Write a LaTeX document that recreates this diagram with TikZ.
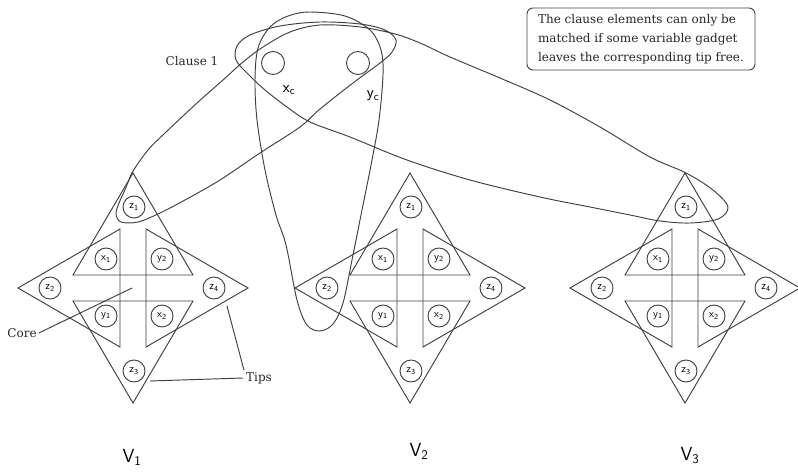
\documentclass[tikz,border=0pt]{standalone}
\usepackage{fontspec}
\setmainfont{DejaVu Serif}
\newcommand\gadget[2]{%
  \begin{scope}[shift={(#2,288)}]
    \draw[ln] (0,-115) -- (-60,-13) -- (60,-13) -- cycle;
    \draw[ln] (0,115) -- (-60,13) -- (60,13) -- cycle;
    \draw[ln] (-115,0) -- (-13,-59) -- (-13,59) -- cycle;
    \draw[ln] (115,0) -- (13,-59) -- (13,59) -- cycle;
    \node[vc] (#1z1) at (1,-81) {z\textsubscript{1}};
    \node[vc] (#1z3) at (1,83) {z\textsubscript{3}};
    \node[vc] (#1z2) at (-83,0) {z\textsubscript{2}};
    \node[vc] (#1z4) at (81,0) {z\textsubscript{4}};
    \node[vc] (#1x1) at (-27,-29) {x\textsubscript{1}};
    \node[vc] (#1y2) at (29,-29) {y\textsubscript{2}};
    \node[vc] (#1y1) at (-27,28) {y\textsubscript{1}};
    \node[vc] (#1x2) at (29,28) {x\textsubscript{2}};
  \end{scope}}
\begin{document}
\begin{tikzpicture}[x=1pt,y=-1pt,
  ln/.style={draw=black!75, line width=0.95pt},
  vc/.style={circle, draw=black!75, line width=0.95pt, minimum size=22pt, inner sep=0pt,
    font=\sffamily\fontsize{11}{11}\selectfont},
  cc/.style={circle, draw=black!75, line width=0.95pt, minimum size=23pt, inner sep=0pt},
  hand/.style={font=\sffamily\fontsize{16}{16}\selectfont, inner sep=0pt},
  vlab/.style={font=\sffamily\fontsize{19}{19}\selectfont, inner sep=0pt},
  print/.style={font=\fontsize{12}{14}\selectfont, inner sep=0pt, text=black!85},
  notebox/.style={draw=black!75, line width=0.95pt, rounded corners=6pt, align=left,
    minimum width=228pt, minimum height=62pt, inner sep=4pt,
    font=\fontsize{12}{19}\selectfont, text=black!85}]
\useasboundingbox (0,0) rectangle (798,474);

\gadget{a}{133}
\gadget{b}{410}
\gadget{c}{685}

% clause elements
\node[cc] (xc) at (273,63) {};
\node[cc] (yc) at (358,63) {};
\node[hand] (xcl) at (289,90) {x\textsubscript{c}};
\node[hand] (ycl) at (373,96) {y\textsubscript{c}};
\node[print] (clause) at (192,61) {Clause 1};

% twisted band from V1 z1 through clause to V3 z1
\draw[ln] plot[smooth cycle, tension=0.55] coordinates {
  (133,171) (148,150) (165,133) (197,103) (223,80) (243,62) (263,47) (290,32)
  (320,25) (360,27) (395,34) (420,43) (450,57) (500,78) (550,100) (600,127)
  (650,157) (686,173) (713,190) (728,207) (718,219) (690,223) (660,221)
  (630,215) (590,207) (540,197) (470,180) (407,160) (350,137) (310,122)
  (287,107) (265,90) (248,74) (236,60) (237,46) (250,35) (280,26) (320,22)
  (360,24) (385,30) (396,40) (392,52) (380,63) (353,83) (320,109) (300,127)
  (260,153) (220,180) (185,200) (160,213) (138,222) (121,222) (116,214)
  (119,203) (124,192) (129,180)};

% loop from clause down to V2 z2
\draw[ln] plot[smooth cycle, tension=0.55] coordinates {
  (310,12) (345,16) (370,30) (381,50) (383,75) (379,120) (372,160) (362,210)
  (352,260) (343,303) (333,324) (320,331) (307,325) (297,300) (286,245)
  (276,215) (265,170) (257,120) (255,80) (258,48) (270,27) (288,16)};

% note
\node[notebox] (note) at (641,39) {The clause elements can only be\\matched if some variable gadget\\leaves the corresponding tip free.};

% Core and Tips
\node[print] (corel) at (22,333) {Core};
\coordinate (corept) at (132,288);
\draw[ln] (corel.east) ++(2,0) -- (corept);
\node[print] (tipsl) at (259,378) {Tips};
\coordinate (tipa) at (150,381);
\coordinate (tipb) at (227,306);
\draw[ln] (tipsl.west) ++(-3,0) -- (tipa);
\draw[ln] (tipsl.north west) ++(-2,-2) -- (tipb);

% variable labels
\node[vlab] (v1) at (132,457) {V\textsubscript{1}};
\node[vlab] (v2) at (419,451) {V\textsubscript{2}};
\node[vlab] (v3) at (690,456) {V\textsubscript{3}};
\end{tikzpicture}
\end{document}
